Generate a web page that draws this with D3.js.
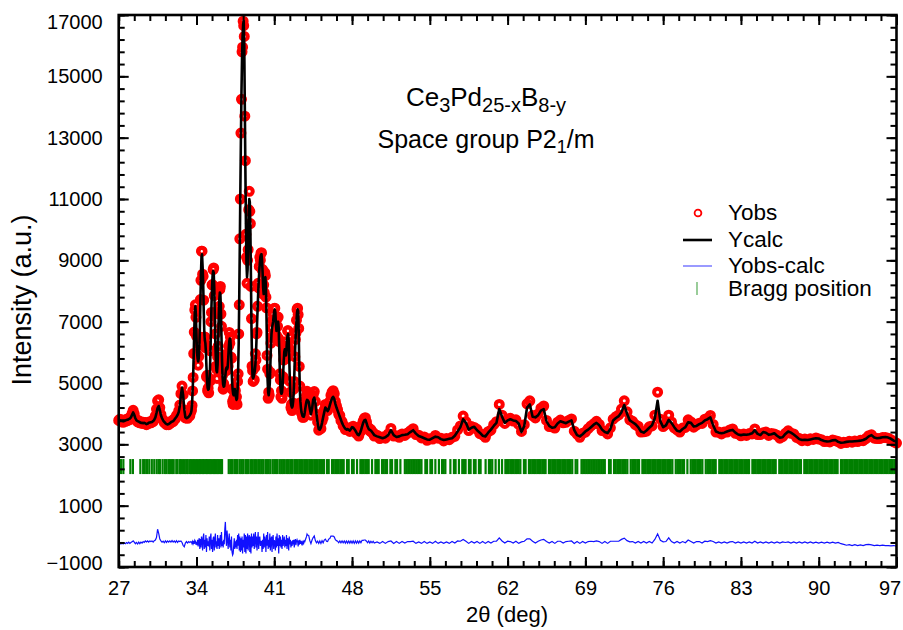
<!DOCTYPE html>
<html><head><meta charset="utf-8">
<script src="https://cdn.jsdelivr.net/npm/d3@7"></script>
<style>body{margin:0;background:#fff}svg{display:block}text{font-family:"Liberation Sans",Arial,sans-serif}</style>
</head><body><svg id="c" width="903" height="630"></svg>
<script>
// ---------- DATA ----------
const twoTheta = [
27,27.1,27.2,27.3,27.4,27.5,27.6,27.7,27.8,27.9,
28,28.1,28.2,28.3,28.4,28.5,28.6,28.7,28.8,28.9,
29,29.1,29.2,29.3,29.4,29.5,29.6,29.7,29.8,29.9,
30,30.1,30.2,30.3,30.4,30.5,30.6,30.7,30.8,30.9,
31,31.1,31.2,31.3,31.4,31.5,31.6,31.7,31.8,31.9,
32,32.1,32.2,32.3,32.4,32.5,32.6,32.7,32.8,32.9,
33,33.1,33.2,33.3,33.4,33.5,
33.55,33.6,33.65,33.7,33.75,33.8,33.85,33.9,33.95,34,
34.05,34.1,34.15,34.2,34.25,34.3,34.35,34.4,34.45,34.5,
34.55,34.6,34.65,34.7,34.75,34.8,34.85,34.9,34.95,35,
35.05,35.1,35.15,35.2,35.25,35.3,35.35,35.4,35.45,35.5,
35.55,35.6,35.65,35.7,35.75,35.8,35.85,35.9,35.95,36,
36.05,36.1,36.15,36.2,36.25,36.3,36.35,36.4,36.45,36.5,
36.55,36.6,36.65,36.7,36.75,36.8,36.85,36.9,36.95,37,
37.05,37.1,37.15,37.2,37.25,37.3,37.35,37.4,37.45,37.5,
37.55,37.6,37.65,37.7,37.75,37.8,37.85,37.9,37.95,38,
38.05,38.1,38.15,38.2,38.25,38.3,38.35,38.4,38.45,38.5,
38.55,38.6,38.65,38.7,38.75,38.8,38.85,38.9,38.95,39,
39.05,39.1,39.15,39.2,39.25,39.3,39.35,39.4,39.45,39.5,
39.55,39.6,39.65,39.7,39.75,39.8,39.85,39.9,39.95,40,
40.05,40.1,40.15,40.2,40.25,40.3,40.35,40.4,40.45,40.5,
40.55,40.6,40.65,40.7,40.75,40.8,40.85,40.9,40.95,41,
41.05,41.1,41.15,41.2,41.25,41.3,41.35,41.4,41.45,41.5,
41.55,41.6,41.65,41.7,41.75,41.8,41.85,41.9,41.95,42,
42.05,42.1,42.15,42.2,42.25,42.3,42.35,42.4,42.45,42.5,
42.55,42.6,42.65,42.7,42.75,42.8,42.85,42.9,42.95,43,
43.05,43.1,43.15,43.2,43.25,43.3,43.35,43.4,43.45,43.5,
43.55,43.6,43.65,43.7,43.75,43.8,43.85,43.9,43.95,44,
44.1,44.2,44.3,44.4,44.5,44.6,44.7,44.8,44.9,45,
45.1,45.2,45.3,45.4,45.5,45.6,45.7,45.8,45.9,46,
46.1,46.2,46.3,46.4,46.5,46.6,46.7,46.8,46.9,47,
47.1,47.2,47.3,47.4,47.5,47.6,47.7,47.8,47.9,48,
48.1,48.2,48.3,48.4,48.5,48.6,48.7,48.8,48.9,49,
49.1,49.2,49.3,49.4,49.5,49.6,49.7,49.8,49.9,50,
50.25,50.5,50.75,51,51.25,51.5,51.75,52,
52.25,52.5,52.75,53,53.25,53.5,53.75,54,
54.25,54.5,54.75,55,55.25,55.5,55.75,56,
56.25,56.5,56.75,57,57.25,57.5,57.75,58,
58.25,58.5,58.75,59,59.25,59.5,59.75,60,
60.25,60.5,60.75,61,61.25,61.5,61.75,62,
62.25,62.5,62.75,63,63.25,63.5,63.75,64,
64.25,64.5,64.75,65,65.25,65.5,65.75,66,
66.25,66.5,66.75,67,67.25,67.5,67.75,68,
68.25,68.5,68.75,69,69.25,69.5,69.75,70,
70.25,70.5,70.75,71,71.25,71.5,71.75,72,
72.25,72.5,72.75,73,73.25,73.5,73.75,74,
74.25,74.5,74.75,75,75.25,75.5,75.75,76,
76.25,76.5,76.75,77,77.25,77.5,77.75,78,
78.25,78.5,78.75,79,79.25,79.5,79.75,80,
80.25,80.5,80.75,81,81.25,81.5,81.75,82,
82.25,82.5,82.75,83,83.25,83.5,83.75,84,
84.25,84.5,84.75,85,85.25,85.5,85.75,86,
86.25,86.5,86.75,87,87.25,87.5,87.75,88,
88.25,88.5,88.75,89,89.25,89.5,89.75,90,
90.25,90.5,90.75,91,91.25,91.5,91.75,92,
92.25,92.5,92.75,93,93.25,93.5,93.75,94,
94.25,94.5,94.75,95,95.25,95.5,95.75,96,
96.25,96.5,96.75,97];

const yObs = [
3780,3820,3740,3790,3720,3780,3750,3820,3770,3850,
3810,3900,4000,4110,3990,3830,3800,3730,3770,3700,
3730,3680,3720,3680,3710,3640,3700,3680,3740,3700,
3760,3740,3840,3930,4150,4420,4450,4200,3980,3830,
3800,3710,3720,3640,3680,3640,3720,3700,3770,3740,
3830,3830,3940,3940,4090,4280,4650,4900,4620,4120,
3860,3880,3850,3930,3930,4060,
4120,4270,4740,5180,5960,6660,7380,7550,7140,6530,
5920,5900,5580,5860,6250,6500,7720,8350,9300,9300,
8550,8480,7700,6500,6500,6150,6250,5200,5250,4750,
4830,4680,5150,5050,6050,7000,7300,8200,8200,8700,
8750,7850,7300,6600,5550,5450,5150,5850,6200,7250,
7500,8050,8150,7250,6850,5600,5250,4800,4980,4850,
5500,5930,5650,5400,5850,5650,5550,6200,6650,6300,
6500,5850,5800,4800,4400,4300,4500,4850,4600,4750,
4400,4550,4300,5050,5300,6600,7550,9700,11000,13150,
14250,15800,15950,16800,16650,16300,13700,12250,9850,9100,
8250,9000,9350,10650,11250,10600,10200,8150,7100,5550,
5400,5050,5500,5100,5500,5950,5750,6600,6650,7500,
8250,8100,8800,9100,9000,9230,9250,8700,8700,7900,
8200,7950,8600,8500,7800,7450,5900,5450,4500,4700,
4600,5300,5350,6300,6800,6500,7050,7250,7000,7430,
7440,7050,7100,6550,7100,6850,7150,6450,6350,5300,
5100,4550,4750,4500,5150,5200,5750,6200,5950,6100,
5800,6350,6200,6700,6700,6150,6000,5050,4700,4200,
4300,4100,4330,4350,4800,5050,5860,6420,6620,7050,
7400,7440,7230,6780,5540,4900,4360,4260,4020,4000,
3880,3930,3880,4010,4090,4280,4450,4600,4730,4690,
4600,4250,3950,4180,4600,4720,4400,3980,3730,3460,
3520,3510,3750,3860,4120,4300,4180,4100,4250,4400,
4600,4700,4750,4650,4400,4250,4130,3980,3940,3780,
3740,3600,3600,3480,3520,3470,3510,3420,3540,3530,
3590,3460,3490,3350,3360,3270,3390,3430,3640,3760,
3850,3870,3730,3560,3540,3440,3480,3380,3380,3270,
3300,3190,3240,3200,3340,3520,3270,3280,
3230,3340,3290,3370,3440,3510,3320,3300,
3210,3240,3130,3180,3170,3290,3200,3200,
3110,3190,3150,3230,3260,3470,3600,3920,
3740,3450,3580,3550,3490,3350,3310,3230,
3410,3460,3640,3740,4300,3950,3680,3820,
3850,3760,3800,3650,3420,3640,4320,4420,
3940,3860,3990,4180,4250,3780,3580,3570,
3530,3720,3790,3700,3720,3780,3830,3430,
3330,3230,3360,3400,3510,3600,3670,3750,
3650,3450,3430,3340,3540,3820,3900,3960,
4150,4420,4060,3800,3750,3640,3590,3400,
3410,3430,3570,3600,3950,4700,3820,3580,
3650,3950,3730,3540,3470,3400,3530,3550,
3800,3730,3560,3630,3690,3680,3820,3850,
3940,3650,3400,3400,3340,3400,3400,3470,
3500,3360,3340,3280,3340,3290,3350,3340,
3500,3320,3320,3380,3400,3290,3350,3340,
3300,3200,3250,3360,3440,3360,3340,3230,
3190,3120,3170,3120,3180,3160,3210,3170,
3150,3090,3100,3080,3140,3120,3090,3030,
3070,3060,3100,3070,3110,3090,3130,3120,
3190,3280,3310,3200,3190,3190,3220,3220,
3200,3150,3080,3040];

const yCalc = [
3800,3780,3760,3760,3750,3760,3780,3790,3800,3820,
3840,3880,3960,4040,3960,3850,3780,3760,3740,3720,
3700,3700,3690,3700,3680,3660,3670,3700,3710,3720,
3730,3760,3800,3880,4020,4180,4250,4120,3950,3850,
3780,3730,3690,3660,3650,3660,3690,3720,3740,3760,
3800,3850,3900,3960,4050,4250,4600,4850,4600,4150,
3880,3850,3870,3900,3950,4020,
4100,4300,4700,5200,5900,6700,7300,7500,7200,6500,
6000,5800,5700,5800,6100,6700,7600,8500,9100,9200,
8800,8300,7400,6700,6400,6300,6000,5500,5100,4850,
4780,4800,4950,5300,5900,6700,7500,8100,8500,8650,
8600,8100,7200,6300,5700,5400,5350,5600,6300,7100,
7700,7950,7900,7400,6500,5700,5200,4950,4880,4900,
5050,5250,5450,5500,5450,5500,5750,6100,6350,6450,
6400,6100,5600,5100,4800,4650,4600,4700,4800,4700,
4550,4450,4500,4800,5400,6300,7800,9500,11300,13000,
14500,15600,16300,16700,16800,16000,14000,12000,10200,8900,
8450,8700,9600,10500,11000,10900,10000,8500,6800,5700,
5200,5150,5200,5300,5400,5600,5900,6400,6900,7400,
7900,8300,8650,8900,9100,9180,9200,9000,8600,8100,
7900,8100,8400,8450,8100,7200,6000,5100,4700,4600,
4750,5000,5600,6200,6600,6800,6900,7000,7200,7350,
7400,7300,6900,6700,6800,6950,7000,6800,6100,5400,
4900,4700,4650,4700,4900,5300,5700,6000,6100,6000,
5900,6100,6400,6550,6600,6400,5800,5100,4600,4350,
4250,4200,4250,4400,4700,5200,5800,6300,6700,7000,
7300,7400,7350,6700,5600,4800,4400,4200,4050,3980,
3920,3900,3900,3950,4050,4180,4300,4400,4450,4440,
4380,4150,3980,4150,4450,4520,4350,4000,3700,3500,
3480,3550,3700,3880,4050,4200,4150,4080,4150,4280,
4400,4500,4550,4480,4320,4200,4100,4000,3900,3800,
3700,3620,3560,3510,3480,3500,3470,3450,3500,3560,
3550,3500,3450,3380,3320,3300,3350,3450,3580,3700,
3780,3800,3700,3580,3500,3470,3450,3400,3350,3300,
3260,3230,3200,3230,3300,3460,3300,3240,
3260,3300,3310,3330,3400,3460,3350,3270,
3240,3200,3160,3150,3200,3250,3230,3170,
3140,3160,3180,3200,3280,3420,3560,3820,
3700,3480,3540,3570,3460,3380,3280,3260,
3380,3480,3600,3700,4150,3900,3700,3780,
3820,3780,3760,3680,3400,3600,4200,4300,
3900,3880,3950,4100,4150,3750,3600,3540,
3560,3680,3750,3720,3690,3740,3780,3460,
3300,3260,3330,3420,3480,3560,3640,3700,
3620,3480,3400,3370,3500,3780,3860,3920,
4050,4280,4000,3780,3720,3660,3560,3420,
3380,3450,3540,3620,3850,4420,3750,3560,
3620,3800,3700,3560,3440,3420,3500,3560,
3720,3700,3580,3600,3660,3700,3780,3820,
3880,3620,3420,3380,3360,3380,3420,3450,
3470,3380,3320,3300,3320,3310,3330,3360,
3460,3340,3300,3400,3380,3310,3330,3360,
3280,3220,3230,3340,3420,3380,3320,3250,
3170,3140,3150,3140,3160,3180,3200,3190,
3140,3110,3090,3100,3130,3140,3080,3050,
3060,3080,3090,3090,3100,3110,3120,3140,
3180,3260,3300,3220,3200,3210,3230,3240,
3220,3180,3120,3090];

const yDiff = [
-240,-200,-250,-210,-250,-220,-240,-200,-230,-190,
-230,-200,-180,-150,-190,-240,-200,-250,-190,-240,
-190,-220,-170,-200,-150,-180,-150,-190,-150,-170,
-150,-190,-140,-120,-40,230,100,-90,-150,-190,
-160,-210,-150,-200,-150,-190,-150,-190,-140,-190,
-150,-200,-140,-200,-150,-170,-150,-200,-300,-340,
-220,-170,-220,-170,-200,-170,
-190,-240,-170,-230,-150,-250,-130,-160,-270,-180,
-290,-110,-330,-150,-60,-410,-90,-360,-10,-110,
-460,-30,90,-410,-110,-360,40,-510,-60,-310,
-160,-330,-10,-460,-60,90,-410,-110,-510,-60,
-10,-460,-110,90,-360,-160,-410,40,-310,-60,
-410,-110,40,-360,140,-310,-160,-360,-110,-260,
240,470,-10,-310,190,-60,-410,-110,90,-360,
-110,-460,-10,-510,-610,-560,-310,-60,-410,-160,
-360,-110,-410,40,-310,90,-460,-10,-510,-60,
-460,-10,-560,-110,-360,90,-510,40,-560,-10,
-410,90,-460,-60,40,-510,-10,-560,90,-360,
-10,-310,90,-410,-110,140,-360,-10,-460,-110,
140,-410,-60,-10,-310,-160,-160,-510,-110,-410,
90,-360,-10,-160,-510,40,-310,140,-410,-110,
-360,90,-460,-110,-10,-510,-60,40,-410,-130,
-170,-460,-10,-360,90,-310,-60,-560,40,-310,
-10,-360,-110,-410,40,-310,-160,-10,-360,-110,
-310,40,-410,-60,-110,-460,-10,-260,-110,-360,
-160,-310,-130,-260,-110,-360,-150,-90,-290,-160,
-110,-170,-330,-130,-270,-110,-250,-150,-240,-190,
-250,-180,-230,-150,-170,-110,-60,-10,70,40,
30,-140,-240,-120,-40,10,-140,-210,-160,-230,
-150,-230,-140,-210,-120,-90,-160,-170,-90,-70,
10,10,10,-20,-110,-140,-160,-210,-150,-210,
-150,-210,-150,-220,-150,-220,-150,-220,-150,-220,
-150,-230,-150,-220,-150,-220,-150,-210,-130,-130,
-120,-120,-160,-210,-150,-220,-160,-210,-160,-220,
-180,-230,-170,-230,-170,-150,-230,-170,
-230,-170,-220,-170,-170,-160,-230,-180,
-230,-170,-230,-180,-230,-160,-230,-180,
-230,-180,-230,-170,-220,-150,-160,-100,
-160,-230,-170,-220,-170,-230,-170,-230,
-170,-220,-160,-160,-50,-150,-220,-160,
-170,-220,-160,-230,-180,-160,-80,-80,
-160,-220,-160,-120,-100,-170,-220,-170,
-230,-160,-160,-220,-170,-160,-150,-230,
-170,-230,-170,-220,-170,-160,-170,-150,
-170,-230,-170,-230,-160,-160,-160,-160,
-100,-60,-140,-180,-170,-220,-170,-220,
-170,-220,-170,-220,-100,80,-130,-180,
-170,-50,-170,-220,-170,-220,-170,-210,
-120,-170,-220,-170,-170,-220,-160,-170,
-140,-170,-220,-180,-220,-180,-220,-180,
-170,-220,-180,-220,-180,-220,-180,-220,
-160,-220,-180,-220,-180,-220,-180,-220,
-180,-220,-180,-200,-180,-220,-180,-220,
-180,-220,-180,-220,-180,-220,-190,-220,
-190,-220,-190,-220,-190,-220,-200,-240,
-260,-290,-270,-300,-270,-300,-280,-300,
-270,-260,-280,-300,-290,-300,-290,-300,
-300,-310,-300,-320];

const braggPositions = [
27.2,27.42,28.05,28.28,28.95,29.2,29.35,29.55,29.75,29.98,30.2,30.42,30.6,30.72,30.95,31.15,31.3,31.48,31.62,31.8,31.95,
32.18,32.3,32.5,32.6,32.78,32.95,33.1,33.22,33.4,33.52,33.65,33.78,33.92,34.05,34.2,34.32,34.45,34.58,34.7,34.85,34.95,
35.08,35.2,35.32,35.45,35.58,35.7,35.82,35.95,36.08,36.2,36.3,
36.9,37.05,37.2,37.4,37.55,37.7,37.9,38.05,38.2,38.4,38.55,38.7,38.9,39.05,39.2,39.35,39.55,39.7,39.85,40,40.2,40.35,
40.5,40.65,40.85,41,41.15,41.3,41.5,41.65,41.8,41.95,42.15,42.3,42.45,42.6,42.8,42.95,43.1,43.25,43.4,43.55,43.7,43.85,44,
44.15,44.3,44.45,44.6,44.75,44.9,45.05,45.2,45.35,45.48,45.75,45.9,46.2,46.35,46.5,46.65,46.8,46.95,47.1,47.25,47.55,47.7,
48,48.15,48.45,48.75,48.9,49.05,49.2,49.35,49.5,49.8,50.1,50.25,50.4,50.7,50.85,51,51.15,51.45,51.6,51.9,52.05,52.35,
52.75,52.9,53.05,53.2,53.35,53.5,53.65,53.8,53.95,54.1,54.25,54.6,54.75,55.05,55.2,55.5,55.82,56.1,56.25,56.4,56.85,
57.17,57.32,57.62,57.92,58.07,58.22,58.52,58.67,58.97,59.12,59.42,59.57,60.02,60.32,60.47,60.62,60.92,61.22,61.5,61.8,
61.95,62.1,62.25,62.4,62.55,62.7,62.85,63,63.15,63.47,63.62,63.92,64.07,64.22,64.37,64.52,64.67,64.82,64.97,65.12,65.27,
65.42,65.72,65.87,66.02,66.17,66.32,66.47,66.62,66.77,66.92,67.07,67.22,67.37,67.52,67.67,67.82,68.12,68.27,68.65,68.8,
68.95,69.1,69.25,69.4,69.55,69.7,69.85,70,70.15,70.3,70.45,70.6,70.75,71.13,71.28,71.58,71.73,71.88,72.03,72.18,72.33,
72.48,72.63,72.78,73.08,73.23,73.38,73.53,73.68,73.83,74.13,74.28,74.43,74.58,74.73,74.88,75.03,75.18,75.33,75.48,75.63,
75.78,75.93,76.08,76.23,76.38,76.53,76.68,76.83,77.13,77.28,77.43,77.58,77.73,77.88,78.18,78.48,78.63,78.78,78.93,79.08,
79.23,79.38,79.53,79.83,79.98,80.13,80.28,80.43,80.58,80.73,81.05,81.2,81.35,81.5,81.65,81.8,81.95,82.1,82.25,82.4,82.55,
82.7,82.85,83,83.15,83.3,83.45,83.6,83.73,84.03,84.18,84.33,84.48,84.63,84.78,84.93,85.08,85.23,85.38,85.53,85.68,85.83,
85.98,86.13,86.45,86.6,86.75,86.9,87.05,87.2,87.35,87.5,87.65,87.8,87.95,88.1,88.25,88.4,88.7,88.85,89,89.15,89.3,89.45,
89.6,89.75,89.9,90.05,90.2,90.35,90.5,90.65,90.8,90.95,91.1,91.25,91.4,91.55,91.7,92,92.15,92.3,92.45,92.6,92.75,92.9,
93.05,93.2,93.35,93.5,93.65,93.8,93.95,94.1,94.25,94.4,94.55,94.7,94.85,95,95.15,95.3,95.45,95.6,95.75,95.9,96.05,96.2,
96.35,96.5,96.65,96.8,96.95];

const xTickValues = [27,34,41,48,55,62,69,76,83,90,97];
const yTickValues = [-1000,1000,3000,5000,7000,9000,11000,13000,15000,17000];
const legendLabels = ["Yobs","Ycalc","Yobs-calc","Bragg position"];

// ---------- LAYOUT ----------
const svg = d3.select("#c");
const plot = {left:118.7, right:896.5, top:15, bottom:567};
const x = d3.scaleLinear().domain([27,97]).range([plot.left, plot.right]);
const y = d3.scaleLinear().domain([-1000,17000]).range([plot.bottom, plot.top]);
const FONT = '"Liberation Sans", Arial, sans-serif';
const braggBand = [2030, 2520];

const n = Math.min(twoTheta.length, yObs.length, yCalc.length, yDiff.length);
const idx = d3.range(n);

// Bragg ticks
svg.append("g").selectAll("line").data(braggPositions).join("line")
  .attr("x1", d => x(d)).attr("x2", d => x(d))
  .attr("y1", y(braggBand[1])).attr("y2", y(braggBand[0]))
  .attr("stroke", "#007f00").attr("stroke-width", 2.2);

// Yobs circles (open symbols, heavy outline)
svg.append("g").selectAll("circle").data(idx).join("circle")
  .attr("cx", i => x(twoTheta[i])).attr("cy", i => y(yObs[i])).attr("r", 3.5)
  .attr("fill", "none").attr("stroke", "#ff0000").attr("stroke-width", 4);

// Ycalc line
const calcLine = d3.line().x(i => x(twoTheta[i])).y(i => y(yCalc[i]));
svg.append("path").datum(idx).attr("d", calcLine)
  .attr("fill", "none").attr("stroke", "#000").attr("stroke-width", 2.6).attr("stroke-linejoin", "round");

// difference line
const diffLine = d3.line().x(i => x(twoTheta[i])).y(i => y(yDiff[i]));
svg.append("path").datum(idx).attr("d", diffLine)
  .attr("fill", "none").attr("stroke", "#1010ff").attr("stroke-width", 1.2);

// ---------- AXES ----------
const minorX = d3.range(27, 97.001, 1.4);
const minorY = d3.range(-1000, 17000.1, 400);
function styleAxis(g, fs) {
  g.select(".domain").remove();
  g.selectAll(".tick line").attr("stroke", "#000").attr("stroke-width", 2);
  g.selectAll("text").attr("font-size", fs).attr("font-family", FONT).attr("fill", "#000");
}
const gxb = svg.append("g").attr("transform", `translate(0,${plot.bottom})`)
  .call(d3.axisBottom(x).tickValues(xTickValues).tickSize(-10).tickPadding(14).tickFormat(d3.format("d")));
styleAxis(gxb, 20);
gxb.selectAll(".tick text").filter(d => d === 97).attr("x", -7);
svg.append("g").attr("transform", `translate(0,${plot.bottom})`)
  .call(d3.axisBottom(x).tickValues(minorX).tickSize(-6).tickFormat("")).call(g => styleAxis(g, 20));
svg.append("g").attr("transform", `translate(0,${plot.top})`)
  .call(d3.axisTop(x).tickValues(xTickValues).tickSize(-10).tickFormat("")).call(g => styleAxis(g, 20));
svg.append("g").attr("transform", `translate(0,${plot.top})`)
  .call(d3.axisTop(x).tickValues(minorX).tickSize(-6).tickFormat("")).call(g => styleAxis(g, 20));
const gyl = svg.append("g").attr("transform", `translate(${plot.left},0)`)
  .call(d3.axisLeft(y).tickValues(yTickValues).tickSize(-10).tickPadding(16).tickFormat(d3.format("d")));
styleAxis(gyl, 20);
gyl.selectAll(".tick text").filter(d => d === 17000).attr("y", 7);
gyl.selectAll(".tick text").filter(d => d === -1000).attr("y", -4);
svg.append("g").attr("transform", `translate(${plot.left},0)`)
  .call(d3.axisLeft(y).tickValues(minorY).tickSize(-6).tickFormat("")).call(g => styleAxis(g, 20));
svg.append("g").attr("transform", `translate(${plot.right},0)`)
  .call(d3.axisRight(y).tickValues(yTickValues).tickSize(-10).tickFormat("")).call(g => styleAxis(g, 20));
svg.append("g").attr("transform", `translate(${plot.right},0)`)
  .call(d3.axisRight(y).tickValues(minorY).tickSize(-6).tickFormat("")).call(g => styleAxis(g, 20));

svg.append("rect").attr("x", plot.left).attr("y", plot.top)
  .attr("width", plot.right - plot.left).attr("height", plot.bottom - plot.top)
  .attr("fill", "none").attr("stroke", "#000").attr("stroke-width", 2.6);

// axis titles
svg.append("text").attr("transform", "translate(31,300) rotate(-90)")
  .attr("text-anchor", "middle").attr("font-size", 27).attr("font-family", FONT).text("Intensity (a.u.)");
svg.append("text").attr("x", 507).attr("y", 622)
  .attr("text-anchor", "middle").attr("font-size", 22).attr("font-family", FONT).text("2θ (deg)");

// title
function richText(parts, cx, cy, fs, sfs, shift) {
  const t = svg.append("text").attr("x", cx).attr("y", cy).attr("text-anchor", "middle")
    .attr("font-size", fs).attr("font-family", FONT);
  let prev = 0;
  parts.forEach(([s, sub]) => {
    t.append("tspan").attr("font-size", sub ? sfs : fs).attr("dy", (sub - prev) * shift).text(s);
    prev = sub;
  });
}
richText([["Ce",0],["3",1],["Pd",0],["25-x",1],["B",0],["8-y",1]], 486, 106, 26, 20, 6);
richText([["Space group P2",0],["1",1],["/m",0]], 486, 148, 25, 18, 5);

// legend
const lg = svg.append("g");
const lx = 683, lw = 29, tx = 728, rows = [213, 240, 266, 289];
lg.append("circle").attr("cx", 698).attr("cy", rows[0]).attr("r", 3.4)
  .attr("fill", "none").attr("stroke", "#ff0000").attr("stroke-width", 1.8);
lg.append("line").attr("x1", lx).attr("x2", lx + lw).attr("y1", rows[1]).attr("y2", rows[1])
  .attr("stroke", "#000").attr("stroke-width", 2.6);
lg.append("line").attr("x1", lx).attr("x2", lx + lw).attr("y1", rows[2]).attr("y2", rows[2])
  .attr("stroke", "#8080ff").attr("stroke-width", 1.6);
lg.append("line").attr("x1", 697).attr("x2", 697).attr("y1", rows[3] - 7).attr("y2", rows[3] + 6)
  .attr("stroke", "#80c080").attr("stroke-width", 1.6);
legendLabels.forEach((s, k) => {
  lg.append("text").attr("x", tx).attr("y", rows[k] + 7).attr("font-size", 22.5)
    .attr("font-family", FONT).text(s);
});
</script></body></html>
